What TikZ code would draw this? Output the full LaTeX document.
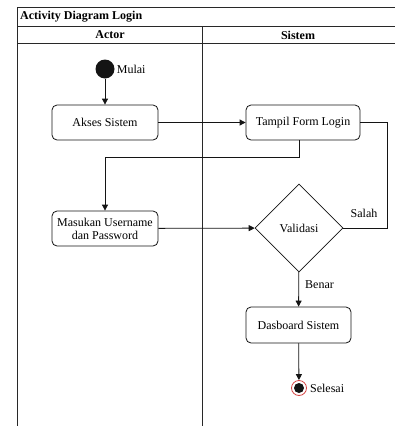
\documentclass[tikz,border=0pt]{standalone}
\usepackage{fontspec}
\setmainfont{Liberation Serif}
\usetikzlibrary{positioning,arrows.meta,shapes.geometric}
\definecolor{ink}{RGB}{20,20,20}
\definecolor{frame}{RGB}{40,40,40}
\definecolor{endring}{RGB}{214,70,70}
\tikzset{
  lane/.style={draw=frame, line width=1pt},
  flow/.style={-{Triangle[length=6pt,width=6pt]}, line width=0.8pt, draw=ink},
  plain/.style={line width=0.8pt, draw=ink},
  act/.style={draw=ink, line width=0.8pt, rounded corners=5pt, fill=white, minimum height=35pt, align=center, inner sep=1pt, font=\fontsize{12}{13}\selectfont},
  decide/.style={diamond, draw=ink, line width=0.8pt, fill=white, minimum width=88pt, minimum height=88pt, inner sep=0pt, font=\fontsize{12}{13}\selectfont},
  startnode/.style={circle, fill=ink, minimum size=19pt, inner sep=0pt},
  endnode/.style={circle, draw=endring, line width=0.8pt, fill=white, minimum size=15pt, inner sep=0pt,
    path picture={\fill[ink] (path picture bounding box.center) circle (5pt);}},
  txt/.style={font=\fontsize{12}{13}\selectfont, inner sep=1pt},
  head/.style={font=\bfseries\fontsize{12}{13}\selectfont, inner sep=1pt},
}

\begin{document}
\begin{tikzpicture}[x=1pt,y=-1pt]
  \useasboundingbox[fill=white] (0,0) rectangle (395,426);

  % Swimlane frame
  \draw[lane] (17,426) -- (17,7) -- (395,7);
  \draw[lane] (17,26) -- (395,26);
  \draw[lane] (17,43) -- (395,43);
  \draw[lane] (202,26) -- (202,426);
  \node[head, anchor=west] (title) at (19,16.5) {Activity Diagram Login};
  \node[head] (actorhd) at (110,35) {Actor};
  \node[head] (sistemhd) at (298,35) {Sistem};

  % Actions
  \node[startnode] (start) at (105,69) {};
  \node[txt, right=1pt of start] (mulai) {Mulai};
  \node[act, minimum width=106pt] (akses) at (105,122.5) {Akses Sistem};
  \node[act, minimum width=114pt] (tampil) at (303,122.5) {Tampil Form Login};
  \node[act, minimum width=106pt] (masukan) at (105,228.5) {Masukan Username\\dan Password};
  \node[decide] (valid) at (299,228) {Validasi};
  \node[act, minimum width=105pt, minimum height=36pt] (dasb) at (298.5,325) {Dasboard Sistem};
  \node[endnode] (end) at (299,388) {};
  \node[txt, right=2pt of end] (selesai) {Selesai};

  % Connections
  \draw[flow] (start) -- (akses);
  \draw[flow] (akses) -- (tampil);
  \draw[flow] (tampil.south -| valid) -- ++(0,17) -| (masukan.north);
  \draw[flow] (masukan) -- (valid);
  \draw[plain] (valid.east) -- ++(44,0) |- (tampil.east);
  \node[txt] (salah) at (364,213) {Salah};
  \draw[flow] (valid) -- (dasb);
  \node[txt, anchor=west] (benar) at (304,285) {Benar};
  \draw[flow] (dasb) -- (end);
\end{tikzpicture}
\end{document}
